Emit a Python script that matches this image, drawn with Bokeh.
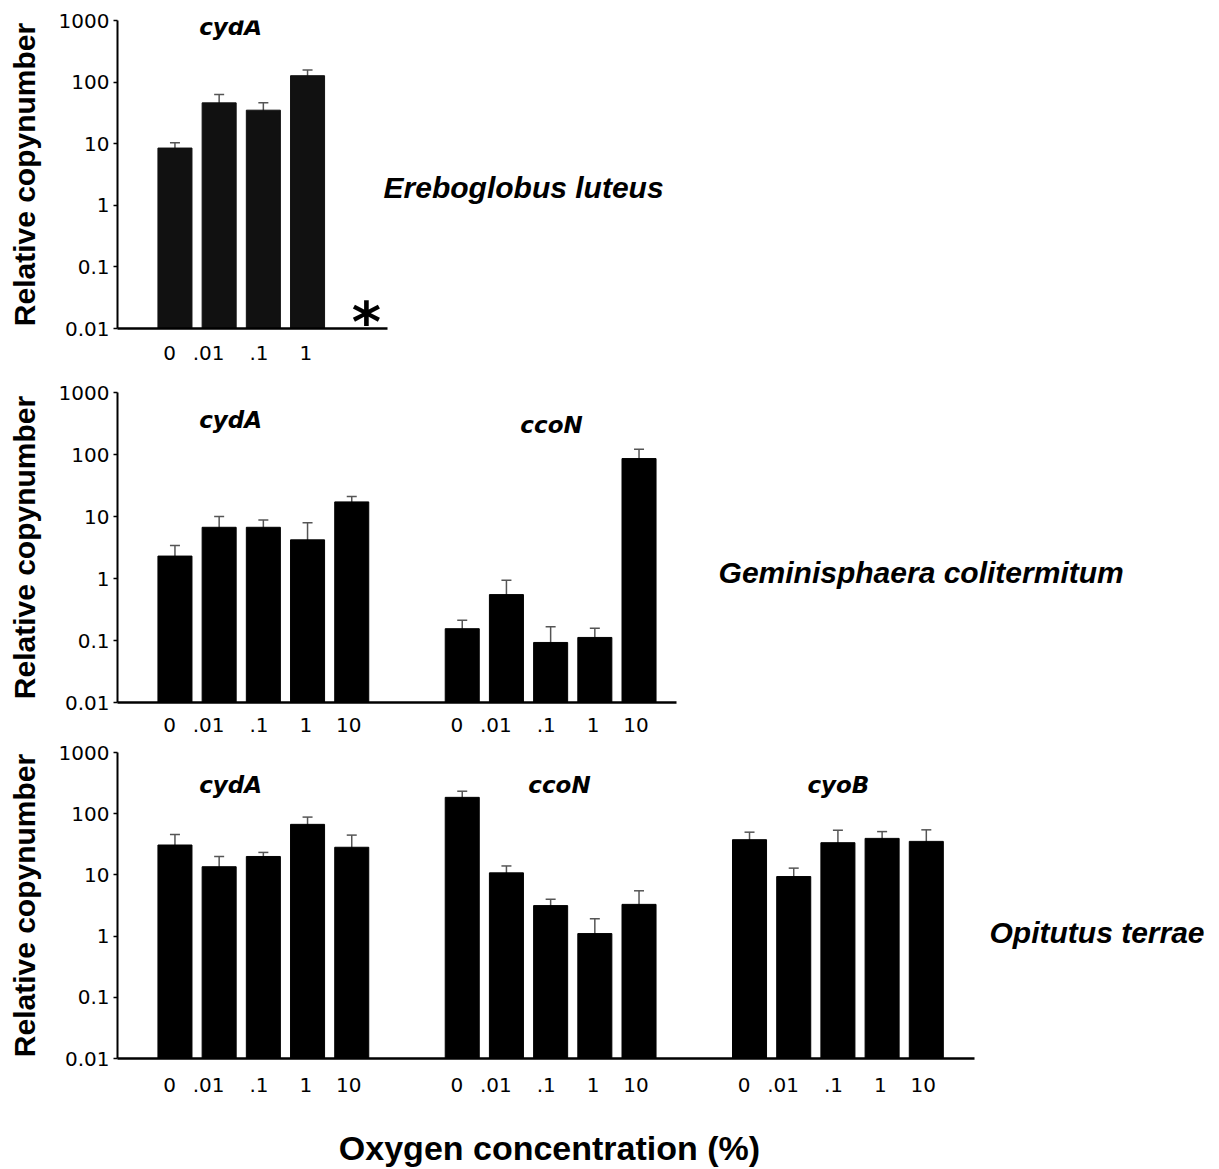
from bokeh.plotting import figure
from bokeh.models import ColumnDataSource, Range1d, FixedTicker, Whisker, TeeHead, Label
from bokeh.layouts import column
from bokeh.embed import file_html
from bokeh.resources import INLINE

# ---------------- data ----------------
oxygen_labels = ["0", ".01", ".1", "1", "10"]

# Ereboglobus luteus
ereb_cydA = [8.5, 46, 35, 127]
ereb_cydA_lo = [6.8, 31.5, 24, 103]
ereb_cydA_hi = [10.4, 63, 46, 157]

# Geminisphaera colitermitum
gem_cydA = [2.3, 6.7, 6.7, 4.2, 17.2]
gem_cydA_lo = [1.3, 3.5, 5.0, 0.65, 14]
gem_cydA_hi = [3.4, 10, 8.8, 7.9, 21]
gem_ccoN = [0.155, 0.55, 0.093, 0.112, 86]
gem_ccoN_lo = [0.098, 0.186, 0.022, 0.07, 53]
gem_ccoN_hi = [0.213, 0.94, 0.167, 0.157, 122]

# Opitutus terrae
opi_cydA = [30.8, 13.6, 20, 67, 28.3]
opi_cydA_lo = [16.4, 7.7, 17.5, 48.7, 13.2]
opi_cydA_hi = [45.8, 20, 23.3, 88, 44.7]
opi_ccoN = [185, 10.8, 3.15, 1.1, 3.3]
opi_ccoN_lo = [139, 7.7, 2.46, 0.3, 1.17]
opi_ccoN_hi = [233, 14, 4.0, 1.92, 5.5]
opi_cyoB = [37.6, 9.4, 33.6, 39.5, 35.3]
opi_cyoB_lo = [26.3, 6.0, 13, 29.4, 16.4]
opi_cyoB_hi = [49.9, 12.9, 53.7, 51, 54.5]

y_ticks = [0.01, 0.1, 1, 10, 100, 1000]
y_tick_labels = ["0.01", "0.1", "1", "10", "100", "1000"]

# ---------------- style / layout ----------------
GROUP_STEP = 6.5
LABEL_SHIFT = [-0.12, -0.24, -0.1, -0.04, -0.07]
ERR = "#555555"
TICK_FONT = "DejaVu Sans"
TICK_SIZE = "20px"
FIG_W = 1216
BORDER_L = 117
BORDER_R = 6
X_RANGE = (-0.3, 24.43)


def make_panel(groups, axis_end, fig_h, mb_top, mb_bottom, bar_color, x_standoff):
    p = figure(width=FIG_W, height=fig_h, y_axis_type="log", title=None,
               x_range=Range1d(*X_RANGE), y_range=Range1d(0.01, 1000),
               output_backend="svg", toolbar_location=None,
               min_border_left=BORDER_L, min_border_right=BORDER_R,
               min_border_top=mb_top, min_border_bottom=mb_bottom)
    ticks, overrides = [], {}
    for g, grp in enumerate(groups):
        n = len(grp["values"])
        xs = [1 + GROUP_STEP * g + i for i in range(n)]
        src = ColumnDataSource(dict(x=xs, top=grp["values"], lo=grp["lo"], hi=grp["hi"]))
        p.vbar(x="x", top="top", bottom=0.01, width=0.77, source=src,
               fill_color=bar_color, line_color=bar_color)
        w = Whisker(source=src, base="x", upper="hi", lower="lo",
                    line_color=ERR, line_width=1.5,
                    upper_head=TeeHead(size=10, line_color=ERR, line_width=1.5),
                    lower_head=TeeHead(size=10, line_color=ERR, line_width=1.5))
        p.add_layout(w)
        for i, x in enumerate(xs):
            t = round(x + LABEL_SHIFT[i], 3)
            ticks.append(t)
            overrides[t] = oxygen_labels[i]
        lab = Label(x=grp["lx"], y=grp["ly"], text=grp["gene"], text_font="DejaVu Sans",
                    text_font_style="bold italic", text_font_size="23px",
                    text_align="center", text_baseline="alphabetic", text_color="black")
        p.add_layout(lab)

    p.xgrid.visible = False
    p.ygrid.visible = False
    p.outline_line_color = None
    p.background_fill_color = "white"

    p.xaxis.bounds = (X_RANGE[0], axis_end)
    p.xaxis.ticker = FixedTicker(ticks=ticks)
    p.xaxis.major_label_overrides = overrides
    p.xaxis.major_tick_line_color = None
    p.xaxis.minor_tick_line_color = None
    p.xaxis.axis_line_width = 2.5
    p.xaxis.axis_line_color = "black"
    p.xaxis.major_label_text_font = TICK_FONT
    p.xaxis.major_label_text_font_size = TICK_SIZE
    p.xaxis.major_label_text_color = "black"
    p.xaxis.major_label_standoff = x_standoff

    p.yaxis.ticker = FixedTicker(ticks=y_ticks)
    p.yaxis.major_label_overrides = dict(zip(y_ticks, y_tick_labels))
    p.yaxis.minor_tick_line_color = None
    p.yaxis.major_tick_out = 4
    p.yaxis.major_tick_in = 0
    p.yaxis.major_tick_line_width = 1.5
    p.yaxis.axis_line_width = 2
    p.yaxis.axis_line_color = "black"
    p.yaxis.major_label_text_font = TICK_FONT
    p.yaxis.major_label_text_font_size = TICK_SIZE
    p.yaxis.major_label_text_color = "black"
    p.yaxis.major_label_standoff = 4
    p.yaxis.axis_label = "Relative copynumber"
    p.yaxis.axis_label_text_font = "Liberation Sans"
    p.yaxis.axis_label_text_font_style = "bold"
    p.yaxis.axis_label_text_font_size = "30px"
    p.yaxis.axis_label_text_color = "black"
    p.yaxis.axis_label_standoff = 15
    return p


def species_label(x, y, text):
    return Label(x=x, y=y, text=text, text_font="Liberation Sans",
                 text_font_style="bold italic", text_font_size="30px",
                 text_align="left", text_baseline="alphabetic", text_color="black")


# Panel 1: Ereboglobus luteus
p1 = make_panel(
    [dict(gene="cydA", values=ereb_cydA, lo=ereb_cydA_lo, hi=ereb_cydA_hi, lx=2.26, ly=783)],
    5.81, 369, 20, 41, "#111111", 11)
p1.add_layout(species_label(5.72, 1.98, "Ereboglobus luteus"))
p1.add_layout(Label(x=5.33, y=0.0128, text="*", text_font="DejaVu Sans",
                    text_font_style="bold", text_font_size="56px",
                    text_align="center", text_baseline="middle", text_color="black"))

# Panel 2: Geminisphaera colitermitum
p2 = make_panel(
    [dict(gene="cydA", values=gem_cydA, lo=gem_cydA_lo, hi=gem_cydA_hi, lx=2.26, ly=359),
     dict(gene="ccoN", values=gem_ccoN, lo=gem_ccoN_lo, hi=gem_ccoN_hi, lx=9.52, ly=302)],
    12.35, 369, 23, 36, "black", 9)
p2.add_layout(species_label(13.30, 1.25, "Geminisphaera colitermitum"))

# Panel 3: Opitutus terrae
p3 = make_panel(
    [dict(gene="cydA", values=opi_cydA, lo=opi_cydA_lo, hi=opi_cydA_hi, lx=2.26, ly=289),
     dict(gene="ccoN", values=opi_ccoN, lo=opi_ccoN_lo, hi=opi_ccoN_hi, lx=9.70, ly=300),
     dict(gene="cyoB", values=opi_cyoB, lo=opi_cyoB_lo, hi=opi_cyoB_hi, lx=16.01, ly=300)],
    19.09, 364, 14, 44, "black", 13)
p3.add_layout(species_label(19.43, 1.14, "Opitutus terrae"))

# Common x-axis title strip
p4 = figure(width=FIG_W, height=66, x_range=Range1d(BORDER_L, FIG_W - BORDER_R),
            y_range=Range1d(0, 66), output_backend="svg", toolbar_location=None,
            title=None, x_axis_location=None, y_axis_location=None,
            min_border_left=BORDER_L, min_border_right=BORDER_R,
            min_border_top=0, min_border_bottom=0)
p4.grid.visible = False
p4.outline_line_color = None
p4.add_layout(Label(x=549, y=21, text="Oxygen concentration (%)", text_font="Liberation Sans",
                    text_font_style="bold", text_font_size="34px", text_align="center",
                    text_baseline="alphabetic", text_color="black"))

layout = column(p1, p2, p3, p4, spacing=0)
open("out.html", "w").write(file_html(layout, INLINE))
